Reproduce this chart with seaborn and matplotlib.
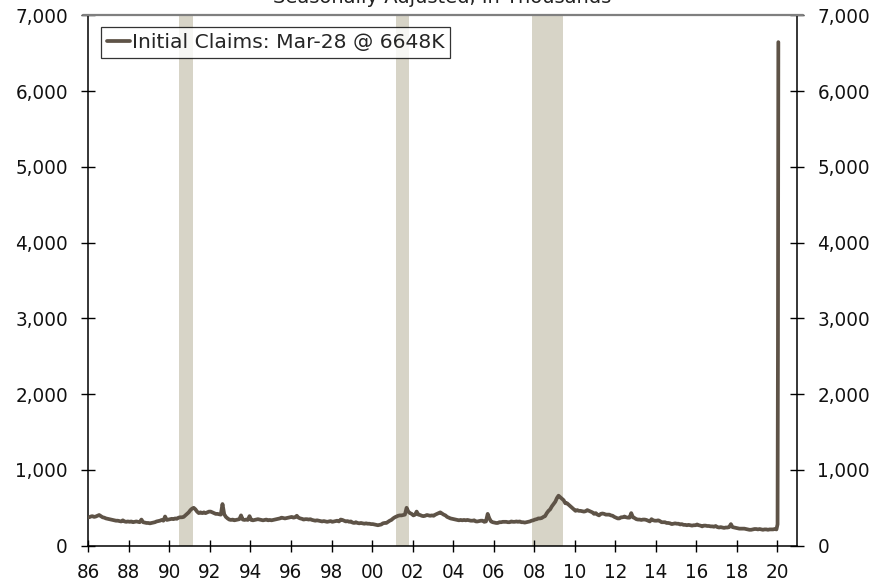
import numpy as np
import pandas as pd
import matplotlib
matplotlib.use("Agg")
import matplotlib.pyplot as plt
import matplotlib.dates as mdates
from matplotlib.ticker import FuncFormatter, MultipleLocator
from matplotlib import font_manager
import seaborn as sns

# ---------------- data (thousands, seasonally adjusted) ----------------
monthly_claims = {
    1986: [375, 385, 390, 380, 385, 395, 405, 390, 375, 370, 360, 355],
    1987: [350, 345, 340, 335, 330, 330, 325, 320, 335, 320, 315, 320],
    1988: [315, 320, 310, 315, 320, 315, 310, 345, 310, 305, 300, 300],
    1989: [295, 300, 305, 310, 320, 325, 330, 340, 330, 385, 340, 345],
    1990: [350, 355, 350, 360, 355, 370, 375, 375, 380, 400, 420, 440],
    1991: [470, 490, 500, 480, 450, 430, 440, 430, 440, 430, 440, 450],
    1992: [450, 440, 430, 420, 420, 415, 410, 550, 415, 380, 360, 345],
    1993: [340, 345, 335, 340, 345, 350, 400, 345, 340, 345, 340, 390],
    1994: [340, 335, 340, 345, 350, 345, 340, 335, 340, 345, 335, 340],
    1995: [335, 340, 345, 350, 355, 360, 370, 365, 360, 365, 370, 375],
    1996: [380, 370, 375, 395, 370, 360, 355, 345, 350, 350, 345, 350],
    1997: [340, 335, 330, 335, 330, 325, 320, 325, 320, 315, 320, 325],
    1998: [315, 320, 325, 330, 320, 345, 340, 330, 320, 325, 315, 320],
    1999: [305, 300, 310, 300, 295, 300, 295, 290, 295, 290, 290, 285],
    2000: [285, 280, 275, 270, 275, 280, 295, 300, 300, 315, 330, 340],
    2001: [360, 375, 385, 395, 400, 400, 405, 410, 500, 450, 430, 420],
    2002: [400, 410, 450, 410, 405, 395, 390, 395, 405, 400, 395, 400],
    2003: [395, 410, 420, 430, 440, 425, 410, 400, 380, 370, 360, 355],
    2004: [350, 345, 340, 335, 340, 335, 340, 335, 340, 335, 330, 330],
    2005: [335, 320, 320, 325, 330, 330, 315, 320, 420, 360, 320, 310],
    2006: [305, 300, 300, 310, 310, 315, 315, 315, 310, 310, 320, 315],
    2007: [315, 320, 315, 320, 310, 310, 305, 310, 315, 320, 330, 335],
    2008: [345, 350, 360, 360, 365, 380, 390, 430, 460, 480, 520, 550],
    2009: [580, 630, 660, 640, 620, 600, 560, 560, 540, 520, 500, 480],
    2010: [460, 470, 460, 460, 455, 450, 455, 470, 460, 450, 440, 420],
    2011: [430, 410, 400, 420, 425, 420, 410, 410, 410, 400, 395, 380],
    2012: [370, 360, 360, 375, 375, 385, 375, 370, 370, 430, 375, 365],
    2013: [350, 345, 345, 340, 345, 345, 340, 330, 320, 350, 335, 330],
    2014: [330, 335, 325, 310, 310, 310, 300, 300, 295, 285, 290, 295],
    2015: [290, 290, 280, 285, 275, 275, 270, 275, 270, 265, 270, 270],
    2016: [280, 270, 265, 255, 265, 265, 260, 260, 255, 255, 250, 260],
    2017: [245, 240, 245, 240, 235, 240, 240, 245, 285, 245, 240, 235],
    2018: [230, 225, 225, 225, 225, 220, 215, 210, 210, 215, 220, 220],
    2019: [215, 220, 215, 210, 215, 215, 210, 215, 215, 215, 220, 215],
}
# final weekly points, placed where the reference chart draws the spike
final_weeks = ["2020-01-04", "2020-01-11", "2020-01-18"]
final_week_claims = [282, 2620, 6648]

recession_starts = ["1990-07-01", "2001-03-01", "2007-12-01"]
recession_ends = ["1991-03-01", "2001-11-01", "2009-06-01"]

legend_label = "Initial Claims: Mar-28 @ 6648K"
subtitle = "Seasonally Adjusted, In Thousands"

# ---------------- assemble table ----------------
dates, values = [], []
for yr, vals in monthly_claims.items():
    for m, v in enumerate(vals, start=1):
        dates.append(pd.Timestamp(year=yr, month=m, day=15))
        values.append(v)
dates += [pd.Timestamp(d) for d in final_weeks]
values += final_week_claims
df = pd.DataFrame({"date": dates, "claims": values, "series": legend_label})

# ---------------- plot ----------------
sns.set_style("white")
plt.rcParams["font.family"] = ["DejaVu Sans"]

tick_font = font_manager.FontProperties(family="DejaVu Sans", stretch="condensed",
                                        size=14.7)
LINE = "#5E5347"
SHADE = "#D7D4C7"

fig = plt.figure(figsize=(8.85, 5.84), dpi=100)
ax = fig.add_axes([0.0998, 0.0656, 0.8008, 0.9079])

for s, e in zip(recession_starts, recession_ends):
    ax.axvspan(pd.Timestamp(s), pd.Timestamp(e), color=SHADE, lw=0, zorder=0)

sns.lineplot(data=df, x="date", y="claims", hue="series", palette=[LINE],
             linewidth=2.7, ax=ax, zorder=3)

ax.set_xlim(pd.Timestamp("1986-01-01"), pd.Timestamp("2020-12-20"))
ax.set_ylim(0, 7000)
ax.set_xlabel("")
ax.set_ylabel("")

ax.yaxis.set_major_locator(MultipleLocator(1000))
ax.yaxis.set_major_formatter(FuncFormatter(lambda v, p: f"{int(v):,}"))
ax.xaxis.set_major_locator(mdates.YearLocator(2, month=1, day=1))
ax.xaxis.set_major_formatter(mdates.DateFormatter("%y"))

ax.tick_params(axis="y", which="major", direction="inout", length=9.4, width=1,
               color="black", left=True, right=True, labelleft=True,
               labelright=True, pad=10, labelcolor="#111111")
ax.tick_params(axis="x", which="major", direction="inout", length=9.0, width=1,
               color="black", bottom=True, pad=8, labelcolor="#111111")
for lab in ax.get_xticklabels() + ax.get_yticklabels():
    lab.set_fontproperties(tick_font)
for t in ax.yaxis.get_major_ticks():
    t.label2.set_fontproperties(tick_font)

for side in ["left", "right", "bottom"]:
    ax.spines[side].set_color("black")
    ax.spines[side].set_linewidth(1.1)
ax.spines["top"].set_visible(False)
ax.plot([-0.008, 1.008], [1, 1], transform=ax.transAxes, color="#7F7F7F",
        lw=1.6, clip_on=False, zorder=5)

leg = ax.legend(loc="upper left", bbox_to_anchor=(0.0179, 0.9777), frameon=True,
                fancybox=False, fontsize=14.6, handlelength=1.15, handletextpad=0.1,
                borderpad=0.28, borderaxespad=0)
leg.get_frame().set_edgecolor("black")
leg.get_frame().set_linewidth(0.9)
for h in leg.get_lines():
    h.set_linewidth(2.7)

fig.text(0.5, 1 - 3.0 / 584, subtitle, ha="center", va="baseline",
         fontsize=14, color="#222222")

fig.savefig("out.png", dpi=100)
